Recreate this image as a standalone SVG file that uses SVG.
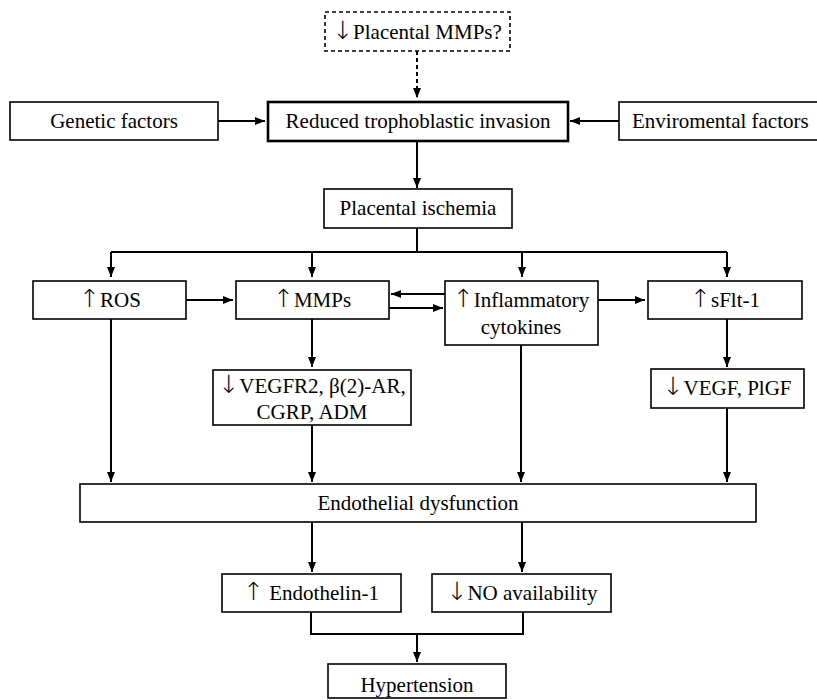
<svg xmlns="http://www.w3.org/2000/svg" width="817" height="700" viewBox="0 0 817 700">
<defs>
<marker id="ah" markerWidth="10" markerHeight="10" viewBox="0 0 10 10" refX="10" refY="5" orient="auto" markerUnits="userSpaceOnUse">
<path d="M0,1 L10,5 L0,9 Z" fill="#000"/>
</marker>
</defs>
<style>
rect{fill:#fff;stroke:#000;stroke-width:1.6}
.thick{stroke-width:2.6}
.dash{stroke-dasharray:4 3}
text{font-family:'Liberation Serif','DejaVu Serif',serif;font-size:21px;fill:#000;text-anchor:middle}
.ar{font-family:'DejaVu Sans',sans-serif;font-size:25px;font-weight:200;fill:#000}
.c line,.c path{stroke:#000;stroke-width:2;fill:none}
.c .a{marker-end:url(#ah)}
</style>
<g class="c" id="connectors">
<line class="a dash" x1="417" y1="51" x2="417" y2="98"/>
<line class="a" x1="218" y1="121" x2="265" y2="121"/>
<line class="a" x1="619" y1="121" x2="570" y2="121"/>
<line class="a" x1="417" y1="141" x2="417" y2="188"/>
<path d="M417,228 V252 M111,252 H727"/>
<line class="a" x1="111" y1="252" x2="111" y2="277"/>
<line class="a" x1="312" y1="252" x2="312" y2="277"/>
<line class="a" x1="522" y1="252" x2="522" y2="277"/>
<line class="a" x1="727" y1="252" x2="727" y2="277"/>
<line class="a" x1="186" y1="300" x2="233" y2="300"/>
<line class="a" x1="445" y1="294" x2="391" y2="294"/>
<line class="a" x1="389" y1="308" x2="443" y2="308"/>
<line class="a" x1="598" y1="300" x2="645" y2="300"/>
<line class="a" x1="312" y1="319" x2="312" y2="367"/>
<line class="a" x1="727" y1="319" x2="727" y2="367"/>
<line class="a" x1="111" y1="319" x2="111" y2="482"/>
<line class="a" x1="312" y1="425" x2="312" y2="482"/>
<line class="a" x1="521" y1="345" x2="521" y2="482"/>
<line class="a" x1="727" y1="408" x2="727" y2="482"/>
<line class="a" x1="312" y1="522" x2="312" y2="572"/>
<line class="a" x1="522" y1="522" x2="522" y2="572"/>
<path d="M311,612 V634 H523 V612"/>
<line class="a" x1="417" y1="634" x2="417" y2="662"/>
</g>
<g id="placental-mmps"><rect class="dash" x="325" y="12" width="185" height="39"/><text x="417" y="39"><tspan class="ar">↓</tspan>Placental MMPs?</text></g>
<g id="genetic"><rect x="10" y="102" width="208" height="38"/><text x="114" y="128">Genetic factors</text></g>
<g id="reduced"><rect class="thick" x="268" y="102" width="300" height="39"/><text x="418" y="128">Reduced trophoblastic invasion</text></g>
<g id="enviromental"><rect x="619" y="102" width="210" height="38"/><text x="632" y="128" style="text-anchor:start">Enviromental factors</text></g>
<g id="ischemia"><rect x="324" y="189" width="188" height="39"/><text x="418" y="215">Placental ischemia</text></g>
<g id="ros"><rect x="33" y="281" width="153" height="38"/><text x="110" y="307"><tspan class="ar">↑</tspan>ROS</text></g>
<g id="mmps"><rect x="236" y="281" width="153" height="38"/><text x="312" y="307"><tspan class="ar">↑</tspan>MMPs</text></g>
<g id="inflammatory"><rect x="445" y="281" width="153" height="64"/><text x="521" y="307"><tspan class="ar">↑</tspan>Inflammatory</text><text x="521" y="334">cytokines</text></g>
<g id="sflt"><rect x="648" y="281" width="154" height="38"/><text x="725" y="307"><tspan class="ar">↑</tspan>sFlt-1</text></g>
<g id="vegfr2"><rect x="213" y="370" width="198" height="55"/><text x="312" y="393"><tspan class="ar">↓</tspan>VEGFR2, β(2)-AR,</text><text x="312" y="419">CGRP, ADM</text></g>
<g id="vegf"><rect x="651" y="369" width="153" height="39"/><text x="727" y="395"><tspan class="ar">↓</tspan>VEGF, PlGF</text></g>
<g id="endothelial"><rect x="80" y="484" width="676" height="38"/><text x="418" y="510">Endothelial dysfunction</text></g>
<g id="endothelin"><rect x="222" y="574" width="179" height="38"/><text x="311" y="600"><tspan class="ar">↑</tspan> Endothelin-1</text></g>
<g id="no"><rect x="432" y="574" width="179" height="38"/><text x="522" y="600"><tspan class="ar">↓</tspan>NO availability</text></g>
<g id="hypertension"><rect x="328" y="664" width="178" height="34"/><text x="417" y="692">Hypertension</text></g>
</svg>
